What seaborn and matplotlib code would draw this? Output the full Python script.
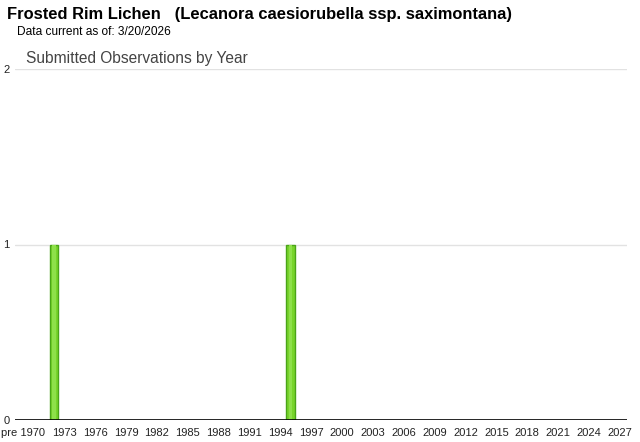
import matplotlib
matplotlib.use("Agg")
import matplotlib.pyplot as plt
import seaborn as sns
import pandas as pd

# data: slot 1969 stands for "pre 1970"
years = list(range(1969, 2028))
obs_years = [1972, 1995]
obs_counts = [1, 1]
counts = [obs_counts[obs_years.index(y)] if y in obs_years else 0 for y in years]

tick_years = [1969] + list(range(1973, 2028, 3))
tick_labels = ["pre 1970"] + [str(y) for y in range(1973, 2028, 3)]
y_ticks = [0, 1, 2]

title = "Frosted Rim Lichen   (Lecanora caesiorubella ssp. saximontana)"
subtitle = "Data current as of: 3/20/2026"
chart_title = "Submitted Observations by Year"

sns.set_style("white")
plt.rcParams["font.family"] = ["Liberation Sans", "DejaVu Sans"]

df = pd.DataFrame({"year": years, "count": counts})

fig = plt.figure(figsize=(6.4, 4.42), dpi=100)
ax = fig.add_axes([15 / 640, 22 / 442, 612 / 640, 351 / 442])

sns.barplot(data=df, x="year", y="count", native_scale=True, width=0.85,
            color="#78d42b", edgecolor="#4aa418", linewidth=1.0,
            saturation=1, ax=ax, zorder=3)
# lighter inner stripe for the glossy look
sns.barplot(data=df, x="year", y="count", native_scale=True, width=0.35,
            color="#8ee04a", linewidth=0, saturation=1, ax=ax, zorder=3.5)
for p in ax.patches:
    if p.get_height() == 0:
        p.set_visible(False)

ax.set_xlim(1968.2, 2027.7)
ax.set_ylim(0, 2)
for v in y_ticks[1:]:
    ax.axhline(v, color="#e2e2e2", lw=1, zorder=1)
ax.axhline(0, color="black", lw=1.2, zorder=4)

for s in ax.spines.values():
    s.set_visible(False)

ax.set_xticks(tick_years)
ax.set_xticklabels(tick_labels, fontsize=8, color="#222222")
ax.tick_params(axis="x", length=4, color="#cccccc", pad=2)
ax.set_yticks(y_ticks)
ax.set_yticklabels([str(v) for v in y_ticks], fontsize=8, color="#222222")
ax.tick_params(axis="y", length=0, pad=4)
ax.set_xlabel("")
ax.set_ylabel("")
ax.grid(False)

fig.text(7 / 640, 1 - 15 / 442, title, fontsize=11.9, fontweight="bold",
         va="center", ha="left", color="black")
fig.text(17 / 640, 1 - 32 / 442, subtitle, fontsize=8.6, va="center",
         ha="left", color="black")
fig.text(26 / 640, 1 - 58 / 442, chart_title, fontsize=11.2, va="center",
         ha="left", color="#444444")

fig.savefig("out.png", dpi=100, facecolor="white")
